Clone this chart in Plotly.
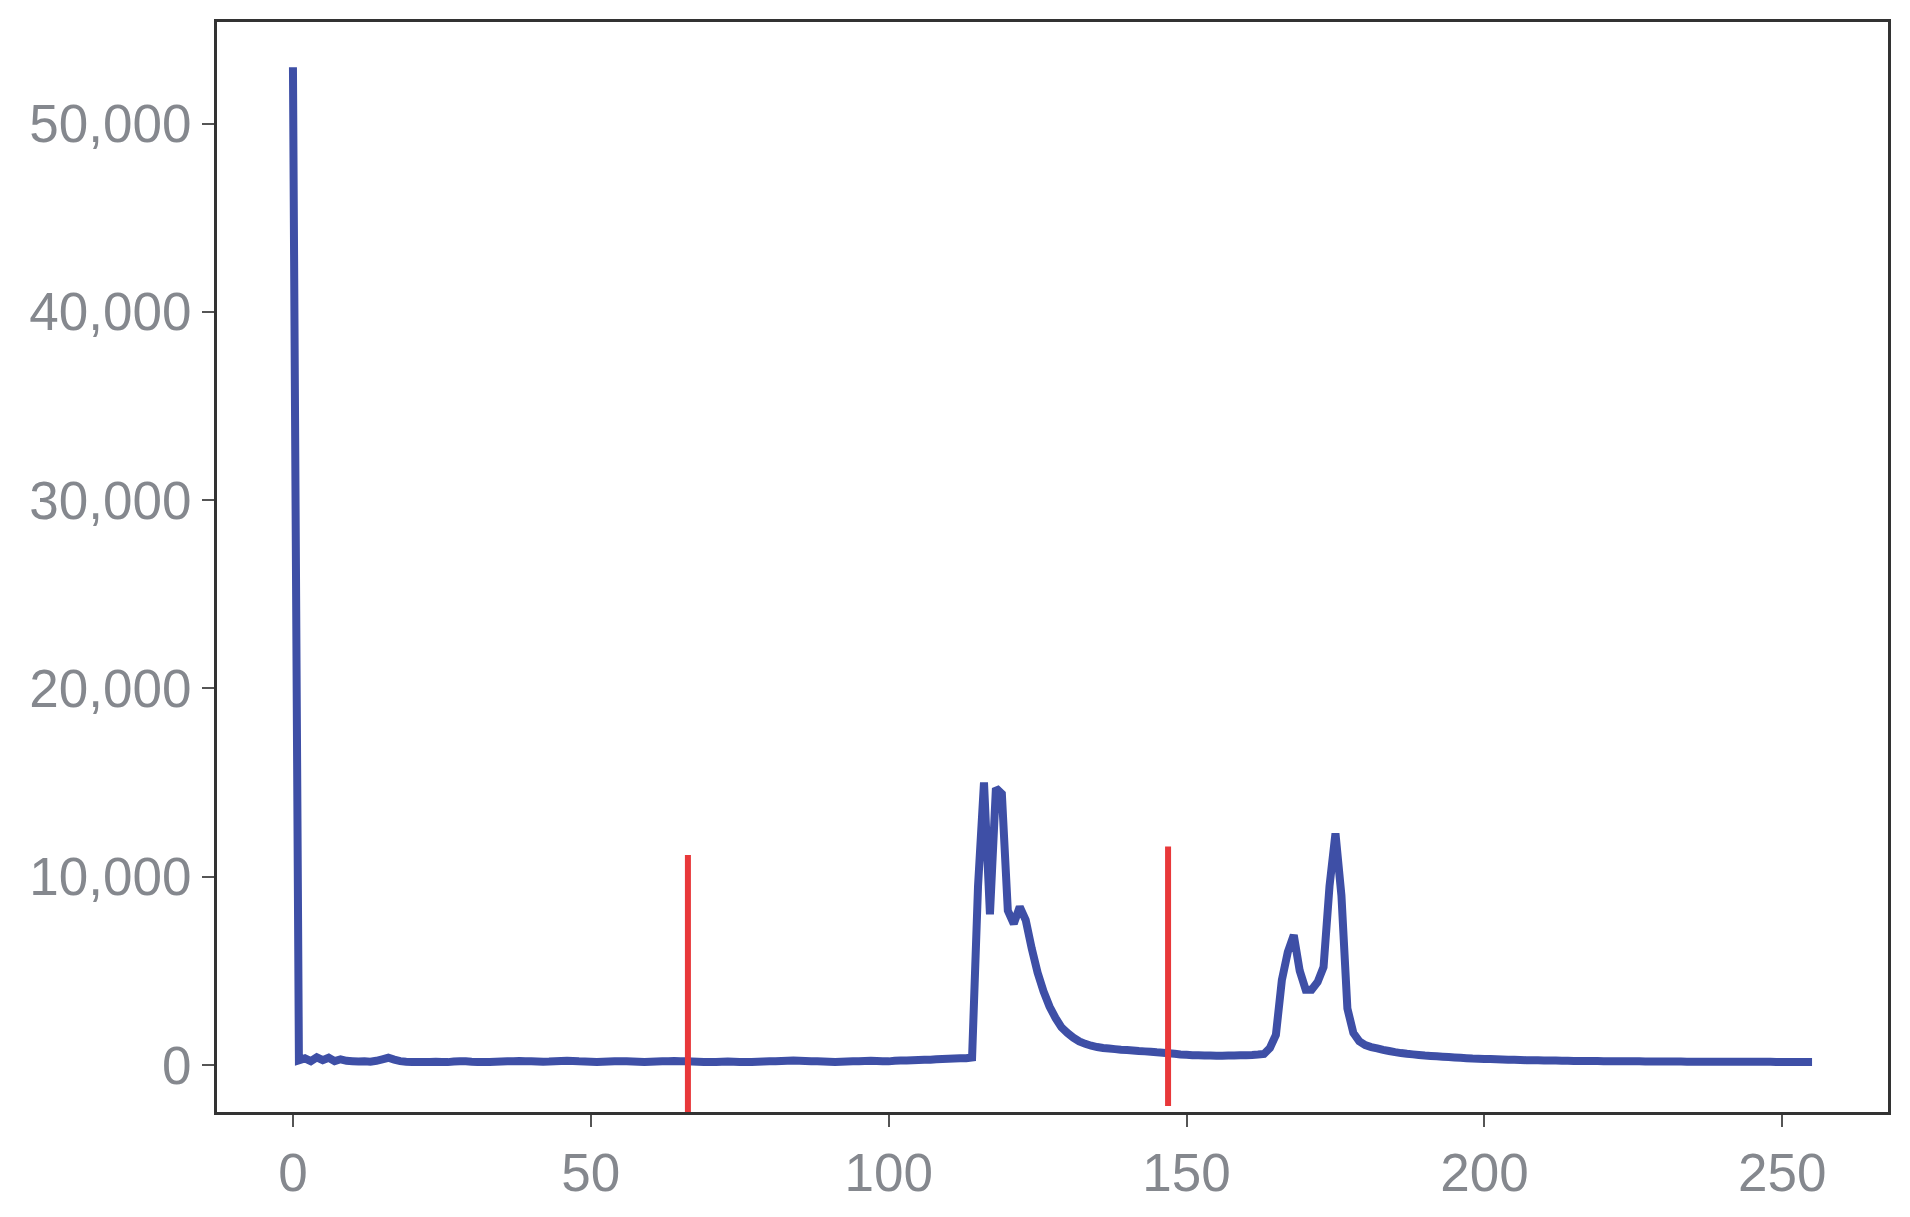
import plotly.graph_objects as go

# pixel intensity bins 0..255
bins = list(range(256))

# histogram counts
counts = [
    53000,
    250, 350, 200, 400, 250, 380, 200, 300, 220, 200,
    180, 200, 170, 220, 300, 380, 280, 200, 170, 160,
    150, 160, 150, 170, 160, 150, 180, 200, 190, 170,
    160, 150, 160, 170, 180, 190, 200, 210, 200, 190,
    180, 170, 180, 200, 210, 220, 210, 190, 180, 170,
    160, 170, 180, 190, 200, 190, 180, 170, 160, 170,
    180, 190, 200, 210, 200, 190, 180, 170, 160, 150,
    160, 170, 180, 170, 160, 150, 160, 170, 180, 190,
    200, 210, 220, 230, 220, 210, 200, 190, 180, 170,
    160, 170, 180, 190, 200, 210, 220, 210, 200, 190,
    220, 230, 240, 250, 260, 270, 280, 300, 320, 330,
    340, 350, 360, 400, 9500, 15000, 8000, 14700, 14400, 8200,
    7500, 8400, 7700, 6200, 4900, 3900, 3100, 2500, 2000, 1700,
    1450, 1250, 1120, 1020, 950, 900, 870, 840, 810, 790,
    770, 740, 720, 700, 670, 650, 620, 590, 560, 540,
    520, 510, 500, 500, 490, 490, 500, 500, 510, 520,
    530, 550, 580, 900, 1600, 4500, 6000, 6900, 5000, 4000,
    4000, 4400, 5200, 9500, 12300, 9000, 3000, 1700, 1250, 1050,
    950, 880, 800, 740, 680, 630, 590, 560, 530, 500,
    480, 460, 440, 420, 400, 380, 360, 340, 330, 320,
    310, 300, 290, 280, 270, 260, 255, 250, 245, 240,
    235, 230, 225, 220, 215, 210, 210, 205, 205, 200,
    200, 195, 195, 190, 190, 190, 185, 185, 185, 180,
    180, 180, 180, 175, 175, 175, 175, 170, 170, 170,
    170, 170, 170, 165, 165, 165, 165, 165, 160, 160,
    160, 160, 160, 160, 160,
]

# the two red threshold markers
marker_x = [66.3, 146.9]
marker_top = [11150, 11600]
marker_bottom = [-2500, -2180]

x_ticks = [0, 50, 100, 150, 200, 250]
y_ticks = [0, 10000, 20000, 30000, 40000, 50000]

fig = go.Figure()

fig.add_trace(go.Scatter(
    x=bins, y=counts, mode='lines',
    line=dict(color='#3e4fa6', width=8, simplify=False),
    showlegend=False
))

for mx, top, bottom in zip(marker_x, marker_top, marker_bottom):
    fig.add_trace(go.Scatter(
        x=[mx, mx], y=[bottom, top], mode='lines',
        line=dict(color='#e8383a', width=6),
        showlegend=False
    ))

axis_style = dict(
    showgrid=False, zeroline=False,
    showline=True, linecolor='#333333', linewidth=3, mirror=True,
    ticks='outside', ticklen=12, tickwidth=2, tickcolor='#555555',
    tickfont=dict(family='Liberation Sans, Arial, sans-serif', size=53, color='#85888e'),
)

# body of the html page adds 8px, margins compensate for it
fig.update_layout(
    width=1910, height=1217,
    margin=dict(l=209, r=30, t=14, b=113),
    paper_bgcolor='white', plot_bgcolor='white',
    xaxis=dict(range=[-12.75, 267.75], tickvals=x_ticks, **axis_style),
    yaxis=dict(range=[-2500, 55400], tickvals=y_ticks, tickformat=',d', **axis_style),
)

fig.write_html("out.html")
